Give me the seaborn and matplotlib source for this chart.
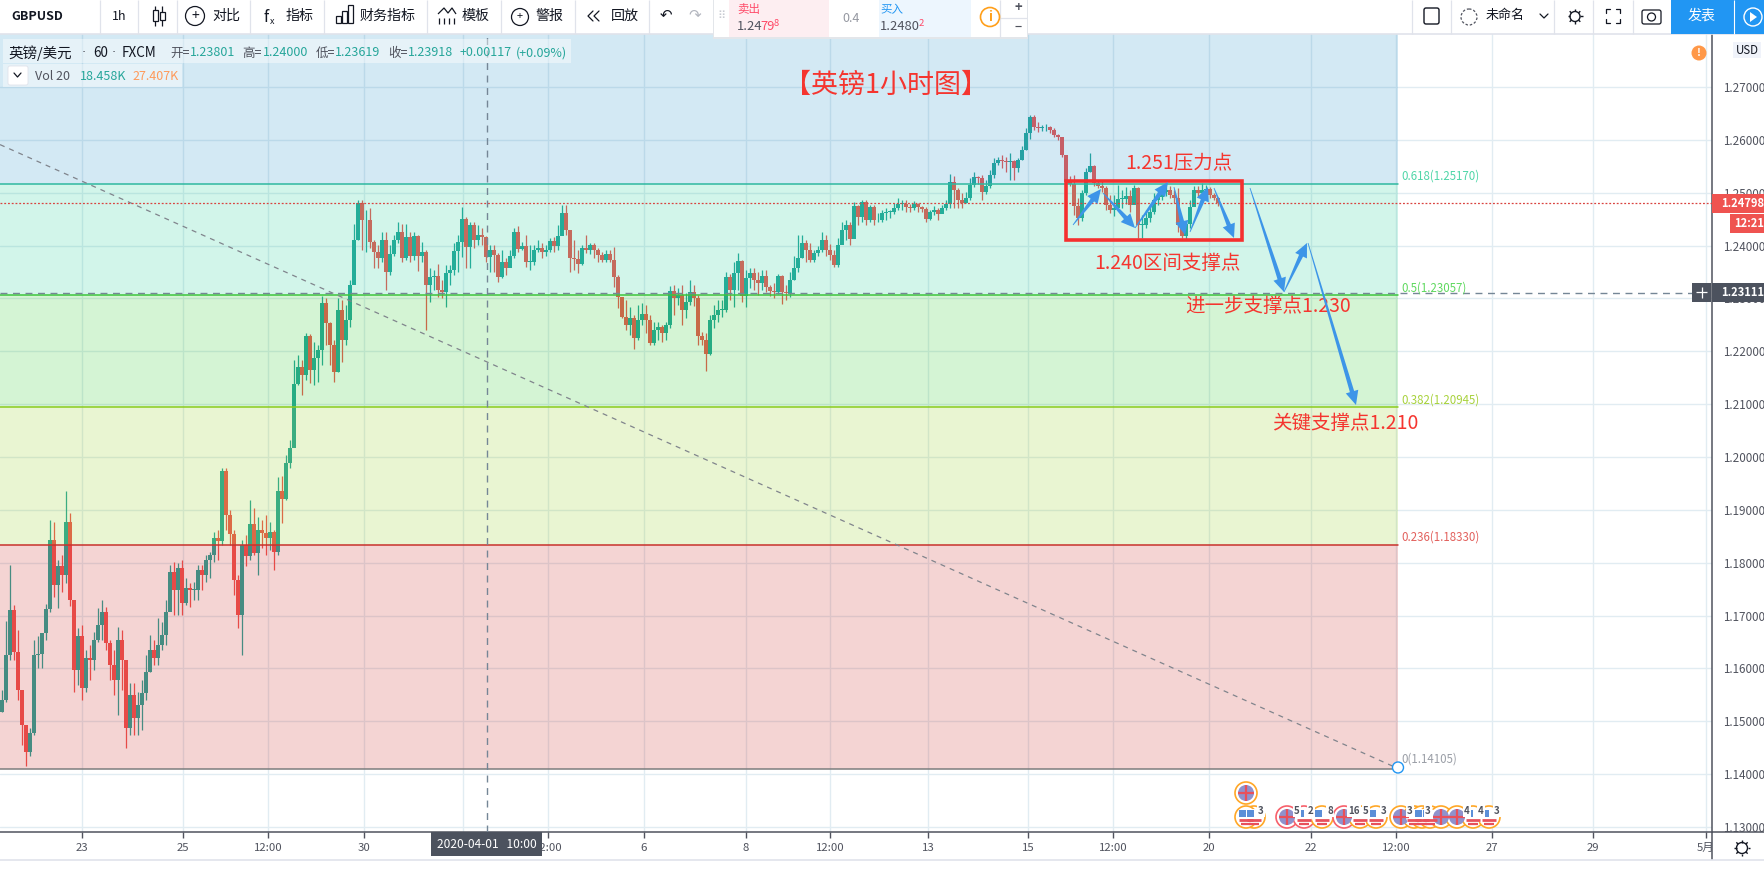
import numpy as np
import seaborn as sns
import matplotlib.pyplot as plt
from matplotlib.patches import Rectangle, Circle, Polygon, FancyBboxPatch

# candles, one every 4 screen px (about 2 hours)
closes = [
    1.1540,1.1625,1.1710,1.1631,1.1559,1.1493,1.1442,1.1478,1.1625,1.1627,
    1.1667,1.1712,1.1843,1.1758,1.1794,1.1777,1.1877,1.1729,1.1597,1.1661,
    1.1563,1.1620,1.1616,1.1654,1.1682,1.1707,1.1648,1.1606,1.1578,1.1654,
    1.1616,1.1487,1.1550,1.1506,1.1531,1.1553,1.1593,1.1635,1.1620,1.1644,
    1.1663,1.1707,1.1782,1.1748,1.1790,1.1724,1.1752,1.1748,1.1748,1.1786,
    1.1777,1.1805,1.1815,1.1847,1.1841,1.1973,1.1890,1.1854,1.1767,1.1701,
    1.1833,1.1812,1.1873,1.1818,1.1862,1.1856,1.1847,1.1858,1.1820,1.1936,
    1.1920,1.1989,1.2017,1.2138,1.2170,1.2155,1.2229,1.2165,1.2187,1.2202,
    1.2291,1.2253,1.2212,1.2161,1.2278,1.2221,1.2259,1.2325,1.2411,1.2481,
    1.2448,1.2448,1.2407,1.2388,1.2377,1.2411,1.2350,1.2384,1.2411,1.2426,
    1.2377,1.2416,1.2380,1.2418,1.2380,1.2388,1.2325,1.2340,1.2342,1.2316,
    1.2312,1.2348,1.2354,1.2390,1.2407,1.2450,1.2397,1.2439,1.2411,1.2420,
    1.2416,1.2378,1.2392,1.2382,1.2340,1.2369,1.2358,1.2380,1.2426,1.2394,
    1.2399,1.2369,1.2369,1.2392,1.2395,1.2388,1.2392,1.2409,1.2399,1.2418,
    1.2462,1.2429,1.2377,1.2375,1.2365,1.2395,1.2392,1.2401,1.2392,1.2382,
    1.2373,1.2384,1.2373,1.2340,1.2303,1.2265,1.2250,1.2263,1.2225,1.2259,
    1.2270,1.2259,1.2216,1.2240,1.2246,1.2235,1.2250,1.2314,1.2301,1.2306,
    1.2278,1.2293,1.2312,1.2301,1.2229,1.2221,1.2195,1.2259,1.2269,1.2278,
    1.2278,1.2340,1.2316,1.2348,1.2371,1.2305,1.2339,1.2348,1.2335,1.2329,
    1.2342,1.2322,1.2314,1.2312,1.2342,1.2312,1.2310,1.2335,1.2358,1.2377,
    1.2405,1.2392,1.2373,1.2386,1.2392,1.2411,1.2392,1.2382,1.2363,1.2401,
    1.2429,1.2439,1.2412,1.2475,1.2454,1.2482,1.2448,1.2473,1.2448,1.2448,
    1.2462,1.2464,1.2464,1.2471,1.2479,1.2479,1.2473,1.2471,1.2479,1.2473,
    1.2469,1.2450,1.2464,1.2467,1.2460,1.2471,1.2479,1.2520,1.2505,1.2486,
    1.2481,1.2490,1.2515,1.2530,1.2528,1.2501,1.2513,1.2534,1.2556,1.2562,
    1.2560,1.2558,1.2560,1.2547,1.2562,1.2581,1.2613,1.2643,1.2624,1.2622,
    1.2624,1.2624,1.2619,1.2609,1.2605,1.2571,1.2520,1.2516,1.2475,1.2452,
    1.2499,1.2539,1.2551,1.2518,1.2513,1.2509,1.2477,1.2467,1.2471,1.2488,
    1.2488,1.2494,1.2477,1.2509,1.2439,1.2439,1.2452,1.2464,1.2486,1.2492,
    1.2501,1.2505,1.2496,1.2490,1.2439,1.2418,1.2441,1.2473,1.2505,1.2499,
    1.2505,1.2507,1.2496,1.2490,1.2481]
highs = [
    1.1559,1.1690,1.1796,1.1720,1.1673,1.1555,1.1493,1.1487,1.1654,1.1661,
    1.1661,1.1722,1.1881,1.1877,1.1805,1.1815,1.1936,1.1894,1.1729,1.1676,
    1.1682,1.1635,1.1644,1.1669,1.1714,1.1729,1.1716,1.1654,1.1635,1.1678,
    1.1673,1.1616,1.1572,1.1572,1.1555,1.1578,1.1625,1.1663,1.1654,1.1695,
    1.1688,1.1729,1.1796,1.1801,1.1799,1.1805,1.1771,1.1762,1.1764,1.1796,
    1.1796,1.1815,1.1820,1.1858,1.1862,1.1979,1.1979,1.1900,1.1862,1.1777,
    1.1843,1.1852,1.1919,1.1903,1.1886,1.1881,1.1890,1.1877,1.1862,1.1962,
    1.1964,1.2004,1.2032,1.2183,1.2193,1.2183,1.2234,1.2232,1.2217,1.2212,
    1.2305,1.2301,1.2255,1.2221,1.2301,1.2297,1.2288,1.2335,1.2441,1.2486,
    1.2486,1.2467,1.2471,1.2411,1.2401,1.2426,1.2426,1.2401,1.2420,1.2445,
    1.2441,1.2441,1.2426,1.2426,1.2420,1.2407,1.2392,1.2358,1.2354,1.2365,
    1.2335,1.2363,1.2363,1.2405,1.2420,1.2473,1.2454,1.2445,1.2445,1.2439,
    1.2433,1.2418,1.2401,1.2401,1.2386,1.2392,1.2377,1.2392,1.2433,1.2437,
    1.2407,1.2420,1.2401,1.2401,1.2411,1.2405,1.2401,1.2414,1.2416,1.2439,
    1.2477,1.2477,1.2420,1.2411,1.2392,1.2401,1.2420,1.2405,1.2405,1.2395,
    1.2388,1.2392,1.2392,1.2397,1.2344,1.2303,1.2297,1.2284,1.2269,1.2288,
    1.2291,1.2288,1.2269,1.2255,1.2255,1.2250,1.2255,1.2324,1.2325,1.2320,
    1.2325,1.2310,1.2335,1.2325,1.2306,1.2237,1.2235,1.2269,1.2288,1.2297,
    1.2297,1.2350,1.2346,1.2369,1.2386,1.2373,1.2354,1.2358,1.2358,1.2350,
    1.2354,1.2354,1.2325,1.2329,1.2346,1.2344,1.2325,1.2350,1.2380,1.2420,
    1.2420,1.2411,1.2405,1.2392,1.2399,1.2426,1.2420,1.2403,1.2392,1.2414,
    1.2445,1.2448,1.2445,1.2482,1.2477,1.2486,1.2486,1.2477,1.2477,1.2462,
    1.2467,1.2471,1.2467,1.2481,1.2490,1.2486,1.2486,1.2479,1.2484,1.2481,
    1.2475,1.2473,1.2467,1.2475,1.2471,1.2477,1.2486,1.2535,1.2532,1.2509,
    1.2499,1.2501,1.2528,1.2539,1.2532,1.2534,1.2524,1.2543,1.2566,1.2568,
    1.2571,1.2568,1.2575,1.2562,1.2566,1.2588,1.2622,1.2647,1.2647,1.2634,
    1.2628,1.2630,1.2626,1.2622,1.2611,1.2605,1.2571,1.2532,1.2534,1.2490,
    1.2505,1.2547,1.2575,1.2552,1.2524,1.2524,1.2513,1.2496,1.2496,1.2515,
    1.2505,1.2511,1.2505,1.2515,1.2511,1.2458,1.2467,1.2477,1.2499,1.2505,
    1.2513,1.2518,1.2513,1.2505,1.2509,1.2445,1.2445,1.2486,1.2513,1.2513,
    1.2518,1.2515,1.2511,1.2499,1.2492]
lows = [
    1.1517,1.1536,1.1616,1.1616,1.1540,1.1455,1.1415,1.1434,1.1474,1.1601,
    1.1601,1.1654,1.1707,1.1735,1.1714,1.1744,1.1761,1.1718,1.1555,1.1569,
    1.1540,1.1555,1.1578,1.1597,1.1650,1.1654,1.1635,1.1578,1.1550,1.1512,
    1.1559,1.1449,1.1474,1.1474,1.1474,1.1483,1.1540,1.1593,1.1606,1.1606,
    1.1635,1.1644,1.1710,1.1701,1.1701,1.1701,1.1720,1.1716,1.1729,1.1729,
    1.1748,1.1764,1.1771,1.1801,1.1805,1.1833,1.1862,1.1833,1.1739,1.1676,
    1.1625,1.1794,1.1805,1.1815,1.1777,1.1828,1.1815,1.1824,1.1786,1.1815,
    1.1875,1.1919,1.1979,1.2042,1.2136,1.2117,1.2146,1.2140,1.2136,1.2142,
    1.2174,1.2212,1.2174,1.2142,1.2161,1.2180,1.2212,1.2246,1.2377,1.2411,
    1.2392,1.2388,1.2395,1.2358,1.2358,1.2369,1.2316,1.2344,1.2380,1.2405,
    1.2369,1.2373,1.2369,1.2373,1.2352,1.2369,1.2240,1.2293,1.2316,1.2303,
    1.2301,1.2284,1.2325,1.2344,1.2350,1.2378,1.2358,1.2358,1.2395,1.2401,
    1.2401,1.2369,1.2350,1.2350,1.2331,1.2339,1.2344,1.2361,1.2377,1.2388,
    1.2392,1.2359,1.2354,1.2363,1.2388,1.2377,1.2380,1.2388,1.2388,1.2392,
    1.2426,1.2420,1.2350,1.2354,1.2348,1.2363,1.2386,1.2384,1.2377,1.2369,
    1.2369,1.2369,1.2369,1.2322,1.2282,1.2263,1.2240,1.2231,1.2204,1.2221,
    1.2250,1.2235,1.2212,1.2212,1.2221,1.2217,1.2221,1.2244,1.2269,1.2288,
    1.2250,1.2263,1.2288,1.2286,1.2212,1.2212,1.2163,1.2193,1.2244,1.2255,
    1.2265,1.2274,1.2297,1.2284,1.2316,1.2293,1.2284,1.2320,1.2316,1.2306,
    1.2316,1.2312,1.2305,1.2301,1.2308,1.2289,1.2297,1.2303,1.2335,1.2350,
    1.2377,1.2369,1.2369,1.2369,1.2380,1.2388,1.2380,1.2373,1.2359,1.2359,
    1.2403,1.2411,1.2401,1.2426,1.2439,1.2445,1.2439,1.2445,1.2439,1.2445,
    1.2445,1.2448,1.2452,1.2460,1.2467,1.2467,1.2464,1.2464,1.2467,1.2464,
    1.2464,1.2445,1.2448,1.2458,1.2448,1.2464,1.2467,1.2471,1.2471,1.2471,
    1.2471,1.2481,1.2486,1.2511,1.2516,1.2486,1.2498,1.2509,1.2528,1.2552,
    1.2547,1.2539,1.2524,1.2524,1.2539,1.2562,1.2581,1.2602,1.2619,1.2615,
    1.2617,1.2617,1.2613,1.2605,1.2600,1.2568,1.2518,1.2513,1.2458,1.2439,
    1.2446,1.2496,1.2539,1.2513,1.2509,1.2501,1.2467,1.2462,1.2456,1.2471,
    1.2471,1.2479,1.2464,1.2481,1.2414,1.2414,1.2433,1.2445,1.2460,1.2477,
    1.2486,1.2494,1.2490,1.2481,1.2426,1.2414,1.2411,1.2433,1.2477,1.2492,
    1.2494,1.2494,1.2490,1.2486,1.2475]
first_open = 1.1517

fib_levels = [1.25170, 1.23057, 1.20945, 1.18330, 1.14105]
fib_names = ['0.618(1.25170)', '0.5(1.23057)', '0.382(1.20945)', '0.236(1.18330)', '0(1.14105)']
last_price = 1.24798
cross_price = 1.23111
trend_prices = [1.2591, 1.14105]
price_ticks = [1.13, 1.14, 1.15, 1.16, 1.17, 1.18, 1.19, 1.20, 1.21, 1.22, 1.23, 1.24, 1.25, 1.26, 1.27]
time_labels = ['23', '25', '12:00', '30', '', '12:00', '6', '8', '12:00', '13', '15', '12:00',
               '20', '22', '12:00', '27', '29', '5月']

W, H = 1764, 872
LEFT, RIGHT, TOP, BOTTOM = 0, 1712, 34, 832
BAR_PX = 4.0
time_px = [82, 183, 268, 364, 463, 548, 644, 746, 830, 928, 1028, 1113, 1209, 1311, 1396, 1492, 1593, 1706]
FIB_END_PX = 1398
CROSS_PX = 487


def to_bar(px):
    return (px - 2) / BAR_PX


sns.set_theme(style='white')
plt.rcParams['font.family'] = ['Noto Sans CJK SC', 'DejaVu Sans']

fig = plt.figure(figsize=(W / 100, H / 100), dpi=100, facecolor='white')
ax = fig.add_axes([0, 1 - BOTTOM / H, RIGHT / W, (BOTTOM - TOP) / H])

opens = np.array([first_open] + closes[:-1])
c_arr = np.array(closes)
x = np.arange(len(closes))
up = c_arr >= opens
cols = np.where(up, '#26a69a', '#ef5350')

ax.vlines(x, lows, highs, colors=cols, linewidth=0.9, zorder=2)
ax.bar(x, np.maximum(np.abs(c_arr - opens), 0.00012), bottom=np.minimum(c_arr, opens),
       width=0.85, color=cols, linewidth=0, zorder=2)

ax.set_xlim(to_bar(LEFT), to_bar(RIGHT))
ax.set_ylim(1.27 - (BOTTOM - 87) / 5285, 1.27 + (87 - TOP) / 5285)

ax.set_xticks([to_bar(p) for p in time_px])
ax.set_xticklabels(time_labels)
ax.yaxis.tick_right()
ax.set_yticks(price_ticks)
ax.set_yticklabels(['%.5f' % p for p in price_ticks])
ax.tick_params(axis='x', length=4, width=1, color='#50535e', labelcolor='#50535e', labelsize=8.2, pad=4, bottom=True)
ax.tick_params(axis='y', length=4, width=1, color='#50535e', labelcolor='#50535e', labelsize=8.4, pad=4, right=True)
ax.grid(True, color='#e1ecf2', linewidth=1.0)
ax.set_axisbelow(True)

sns.despine(ax=ax, left=True, top=True, right=False, bottom=False)
for side in ['right', 'bottom']:
    ax.spines[side].set_color('#50535e')
    ax.spines[side].set_linewidth(1.1)

# fib zones sit over the candles, same as the screenshot
fib_x = [to_bar(LEFT), to_bar(FIB_END_PX)]
zone_cols = ['#2391c8', '#1ecd96', '#28c828', '#91cd1e', '#c82823']
zone_edges = [ax.get_ylim()[1]] + fib_levels
for i in range(5):
    ax.fill_between(fib_x, zone_edges[i + 1], zone_edges[i], color=zone_cols[i], alpha=0.2, linewidth=0, zorder=3)

line_cols = ['#2fb8a0', '#3cc63c', '#8ccc1e', '#c8322c', '#7d7d7d']
for lev, col in zip(fib_levels, line_cols):
    sns.lineplot(x=fib_x, y=[lev, lev], color=col, linewidth=1.1, ax=ax, zorder=4, errorbar=None)

sns.lineplot(x=fib_x, y=trend_prices, color='#80848c', linewidth=0.9, linestyle=(0, (4, 4)), ax=ax, zorder=4, errorbar=None)
ax.axhline(last_price, color='#d9423f', linewidth=0.9, linestyle=(0, (1.5, 1.5)), zorder=4)
ax.axhline(cross_price, color='#758696', linewidth=1.0, linestyle=(0, (5, 4)), zorder=4)
ax.axvline(to_bar(CROSS_PX), color='#758696', linewidth=1.0, linestyle=(0, (5, 4)), zorder=4)
ax.set_xlabel('')
ax.set_ylabel('')

# everything around the plot, in screen px
ui = fig.add_axes([0, 0, 1, 1], zorder=5, facecolor='none')
ui.set_xlim(0, W)
ui.set_ylim(H, 0)
ui.axis('off')


def rect(x0, y0, x1, y1, fc, ec='none', lw=0, z=1):
    ui.add_patch(Rectangle((x0, y0), x1 - x0, y1 - y0, facecolor=fc, edgecolor=ec, linewidth=lw, zorder=z))


def label(px, py, s, size=12.5, col='#131722', ha='left', z=6, **kw):
    ui.text(px, py, s, fontsize=size * 0.72, color=col, ha=ha, va='center', zorder=z, **kw)


def seg(xs, ys, col='#131722', lw=1.0, z=6):
    ui.plot(xs, ys, color=col, linewidth=lw, solid_capstyle='butt', zorder=z)


def gear(cx, cy, r=5.5):
    ui.add_patch(Circle((cx, cy), r, fc='white', ec='#131722', lw=1.0, zorder=6))
    for a in np.arange(0, 2 * np.pi, np.pi / 4):
        seg([cx + r * np.cos(a), cx + (r + 2.5) * np.cos(a)], [cy + r * np.sin(a), cy + (r + 2.5) * np.sin(a)], lw=1.0)


# top toolbar
rect(0, 0, W, 34, 'white')
seg([0, W], [34, 34], '#e0e3eb', 1.2, 2)
for sx in [100, 138, 177, 250, 324, 427, 501, 575, 649, 1412, 1451, 1554, 1593, 1633]:
    seg([sx, sx], [0, 34], '#e0e3eb', 0.9, 2)
label(11, 16, 'GBPUSD', 12.5, weight='bold')
label(119, 16, '1h', 12.5, ha='center')
# candle icon
seg([155, 155], [6, 26], lw=0.9)
seg([162, 162], [6, 26], lw=0.9)
ui.add_patch(Rectangle((152.5, 10), 5, 11, fc='white', ec='#131722', lw=0.9, zorder=7))
ui.add_patch(Rectangle((159.5, 12), 5, 8, fc='white', ec='#131722', lw=0.9, zorder=7))
# compare
ui.add_patch(Circle((195, 16), 9.5, fc='none', ec='#131722', lw=0.9, zorder=6))
label(195, 15.5, '+', 14, ha='center')
label(212, 16, '对比', 14)
label(263, 17, 'f', 16, style='italic')
label(270, 21, 'x', 9)
label(286, 16, '指标', 14)
for bx, bh in zip([336, 342, 348], [7, 12, 18]):
    ui.add_patch(Rectangle((bx, 23 - bh), 5, bh, fc='white', ec='#131722', lw=0.9, zorder=6))
label(360, 16, '财务指标', 14)
seg([438, 444, 448, 452, 456], [14, 8, 13, 8, 14], lw=0.9)
for bx in [439, 444, 449, 454]:
    seg([bx, bx], [24, 18], lw=0.9)
label(462, 16, '模板', 14)
ui.add_patch(Circle((520, 17), 8.5, fc='none', ec='#131722', lw=0.9, zorder=6))
label(520, 16, '+', 11, ha='center')
label(536, 16, '警报', 14)
ui.plot([593, 588, 593], [11, 16, 21], color='#131722', lw=0.9, zorder=6)
ui.plot([599, 594, 599], [11, 16, 21], color='#131722', lw=0.9, zorder=6)
label(611, 16, '回放', 14)
label(666, 15, '↶', 15, ha='center', family='DejaVu Sans')
label(695, 15, '↷', 15, ha='center', col='#b2b5be', family='DejaVu Sans')

# quote panel
rect(713, 0, 1028, 39, '#e3e6ea', z=2)
rect(714, 0, 1027, 37, 'white', z=3)
rect(729, 0, 829, 37, '#fdeef1', z=3)
rect(879, 0, 971, 37, '#edf6fe', z=3)
seg([1000, 1000], [0, 37], '#e0e3eb', 0.9, 4)
seg([1000, 1027], [18, 18], '#e0e3eb', 0.9, 4)
label(721, 16, '⠿', 11, ha='center', col='#c8cbd2', family='DejaVu Sans')
label(737, 10, '卖出', 11.5, col='#ff4a68')
label(737, 26, '1.24', 13, col='#50535e')
label(760, 26, '79', 13, col='#ff4a68')
label(774, 23, '8', 9.5, col='#ff4a68')
label(851, 18, '0.4', 12.5, col='#9598a1', ha='center')
label(880, 10, '买入', 11.5, col='#2196f3')
label(880, 26, '1.2480', 13, col='#50535e')
label(919, 23, '2', 9.5, col='#ff4a68')
ui.add_patch(Circle((990, 17), 9.5, fc='white', ec='#ff9f1a', lw=1.2, zorder=6))
label(990, 17, 'i', 13, col='#ff9f1a', ha='center', weight='bold')
label(1018, 8, '+', 13, col='#50535e', ha='center', weight='bold')
label(1018, 27, '−', 12, col='#50535e', ha='center', weight='bold')

# right of toolbar
ui.add_patch(FancyBboxPatch((1424, 8), 15, 16, boxstyle='round,pad=0,rounding_size=2', fc='white', ec='#131722', lw=1.0, zorder=6))
ui.add_patch(Circle((1469, 17), 8, fc='none', ec='#50535e', lw=0.9, linestyle=(0, (2, 1.5)), zorder=6))
label(1486, 16, '未命名', 13)
ui.plot([1540, 1544, 1548], [14, 18, 14], color='#131722', lw=0.9, zorder=6)
gear(1575, 16.5, 5)
for cx, cy, dx, dy in [(1606, 9, 1, 1), (1620, 9, -1, 1), (1606, 23, 1, -1), (1620, 23, -1, -1)]:
    ui.plot([cx + 4 * dx, cx, cx], [cy, cy, cy + 4 * dy], color='#131722', lw=0.9, zorder=6)
ui.add_patch(FancyBboxPatch((1642, 10), 19, 14, boxstyle='round,pad=0,rounding_size=2', fc='white', ec='#131722', lw=0.9, zorder=6))
ui.add_patch(Circle((1651.5, 17), 4, fc='white', ec='#131722', lw=0.9, zorder=7))
rect(1671, 0, W, 34, '#2196f3', z=3)
seg([1734, 1734], [0, 34], 'white', 0.8, 4)
label(1702, 16, '发表', 14, col='white', ha='center')
ui.add_patch(Circle((1753, 17), 9, fc='none', ec='white', lw=1.0, zorder=6))
ui.add_patch(Polygon([[1750, 12], [1750, 22], [1757, 17]], fc='white', ec='none', zorder=6))

# legend rows
rect(3, 39, 571, 63, '#ffffff70', z=2)
rect(3, 64, 182, 87, '#ffffff70', z=2)
label(8, 53, '英镑/美元', 14.5, col='#131722')
label(84, 53, '·', 13, col='#50535e', ha='center', family='DejaVu Sans')
label(93, 53, '60', 13.5, col='#131722')
label(114, 53, '·', 13, col='#50535e', ha='center', family='DejaVu Sans')
label(122, 53, 'FXCM', 13.5, col='#131722')
teal = '#26a69a'
for px, s, c in [(170, '开=', '#50535e'), (190, '1.23801', teal), (242, '高=', '#50535e'), (263, '1.24000', teal),
                 (316, '低=', '#50535e'), (335, '1.23619', teal), (388, '收=', '#50535e'), (408, '1.23918', teal),
                 (460, '+0.00117', teal), (516, '(+0.09%)', teal)]:
    label(px, 53, s, 12.5, col=c)
ui.add_patch(FancyBboxPatch((8, 66), 20, 19, boxstyle='round,pad=0,rounding_size=2', fc='white', ec='#e0e3eb', lw=0.6, zorder=6))
ui.plot([14, 17.5, 21], [73, 77, 73], color='#131722', lw=0.9, zorder=7)
label(35, 76, 'Vol 20', 12.5, col='#50535e')
label(80, 76, '18.458K', 12.5, col=teal)
label(132, 76, '27.407K', 12.5, col='#ff9a5a')

# hand notes on the chart
note = '#f5352f'
label(886, 85, '【英镑1小时图】', 27, col=note, ha='center')
label(1125, 164, '1.251压力点', 19.5, col=note)
label(1094, 263, '1.240区间支撑点', 19.5, col=note)
label(1185, 306, '进一步支撑点1.230', 19.5, col=note)
label(1272, 423, '关键支撑点1.210', 19.5, col=note)
ui.add_patch(Rectangle((1065.5, 181.5), 176, 59, fc='none', ec='#f5302f', lw=2.6, zorder=6))


def arrow(x0, y0, x1, y1, tail=0.4, neck=2.2, head_w=6.5, head_l=14):
    d = np.array([x1 - x0, y1 - y0], dtype=float)
    L = np.hypot(*d)
    d = d / L
    n = np.array([-d[1], d[0]])
    p0 = np.array([x0, y0])
    tip = np.array([x1, y1])
    base = tip - d * head_l
    pts = [p0 + n * tail, base + n * neck, base + n * head_w, tip, base - n * head_w, base - n * neck, p0 - n * tail]
    ui.add_patch(Polygon(pts, fc='#3d95e8', ec='none', zorder=7))


arrow(1073, 225, 1101, 189)
arrow(1103, 193, 1135, 228)
arrow(1135, 228, 1168, 182)
arrow(1174, 187, 1185, 235)
arrow(1190, 232, 1208, 187)
arrow(1214, 188, 1234, 238)
arrow(1250, 188, 1284, 292)
arrow(1284, 292, 1307, 243)
arrow(1308, 243, 1356, 405)

# fib level names
name_cols = ['#4fd6a8', '#5fd95f', '#a8d23c', '#e2605c', '#9a9ea6']
name_y = [176, 288, 400, 537, 759]
for s, c, py in zip(fib_names, name_cols, name_y):
    label(1401, py, s, 11.5, col=c, weight='medium')
ui.add_patch(Circle((1398, 767.5), 5.5, fc='white', ec='#2196f3', lw=1.0, zorder=7))

# event flags along the bottom
def flag(px, py, kind, ring):
    ui.add_patch(Circle((px, py), 11, fc='white', ec=ring, lw=1.2, zorder=6))
    if kind == 'uk':
        ui.add_patch(Circle((px, py), 8, fc='#8f92cc', ec='none', zorder=6.1))
        seg([px - 8, px + 8], [py, py], '#e8505b', 1.6, 6.2)
        seg([px, px], [py - 8, py + 8], '#e8505b', 1.6, 6.2)
    else:
        ui.add_patch(Circle((px, py), 8, fc='white', ec='none', zorder=6.1))
        seg([px - 7, px + 7], [py + 3, py + 3], '#e8505b', 2.0, 6.2)
        seg([px - 5, px + 5], [py + 6.5, py + 6.5], '#e8505b', 1.6, 6.2)
        rect(px - 7, py - 7, px, py, '#5b8fd8', z=6.2)


orange = '#ffa726'
pink = '#f7606b'
flag(1246, 793, 'uk', orange)
flag(1254, 817, 'us', orange)
flag(1246, 817, 'us', orange)
for fx, kind, ring in [(1287, 'uk', pink), (1304, 'us', pink), (1322, 'us', orange), (1344, 'uk', pink),
                       (1360, 'us', orange), (1376, 'us', orange), (1401, 'uk', orange), (1414, 'us', orange),
                       (1422, 'us', orange), (1430, 'us', orange), (1441, 'uk', orange), (1457, 'uk', orange),
                       (1473, 'us', orange), (1489, 'us', orange)]:
    flag(fx, 817, kind, ring)
for px, s in [(1261, '3'), (1297, '5'), (1311, '2'), (1330, '8'), (1354, '16'), (1366, '5'), (1384, '3'),
              (1410, '3'), (1428, '3'), (1467, '4'), (1481, '4'), (1497, '3')]:
    ui.text(px, 811, s, fontsize=7, color='#50535e', weight='bold', ha='center', va='center', zorder=8,
            bbox=dict(fc='white', ec='none', pad=0.6))

# price scale extras
rect(1733, 42, 1761, 58, '#f0f3fa', z=3)
label(1747, 50, 'USD', 11.5, ha='center', col='#131722')
ui.add_patch(Circle((1699, 53), 7.5, fc='#ff9848', ec='none', zorder=6))
label(1699, 52.5, '!', 11, col='white', ha='center', weight='bold')

rect(1712, 194, W, 213, '#ef5350', z=4)
label(1721, 203.5, '1.24798', 11.2, col='white', weight='bold')
rect(1730, 214, W, 233, '#ef5350', z=4)
label(1734, 223.5, '12:21', 11.2, col='white', weight='bold')
rect(1712, 283, W, 302, '#4c525e', z=4)
label(1721, 292, '1.23111', 11.2, col='white', weight='bold')
rect(1692, 283, 1711, 302, '#4c525e', z=4)
seg([1696, 1707], [292.5, 292.5], 'white', 0.9)
seg([1701.5, 1701.5], [287, 298], 'white', 0.9)

# time scale extras
seg([RIGHT, W], [BOTTOM, BOTTOM], '#50535e', 1.1, 3)
seg([RIGHT, RIGHT], [BOTTOM, 860], '#50535e', 1.1, 3)
seg([0, W], [860, 860], '#e0e3eb', 1.2, 3)
rect(431, 832, 542, 856, '#4c525e', z=4)
label(486.5, 844, '2020-04-01   10:00', 12, col='white', ha='center')
gear(1742, 848)

fig.savefig('out.png', dpi=100)
plt.close(fig)
